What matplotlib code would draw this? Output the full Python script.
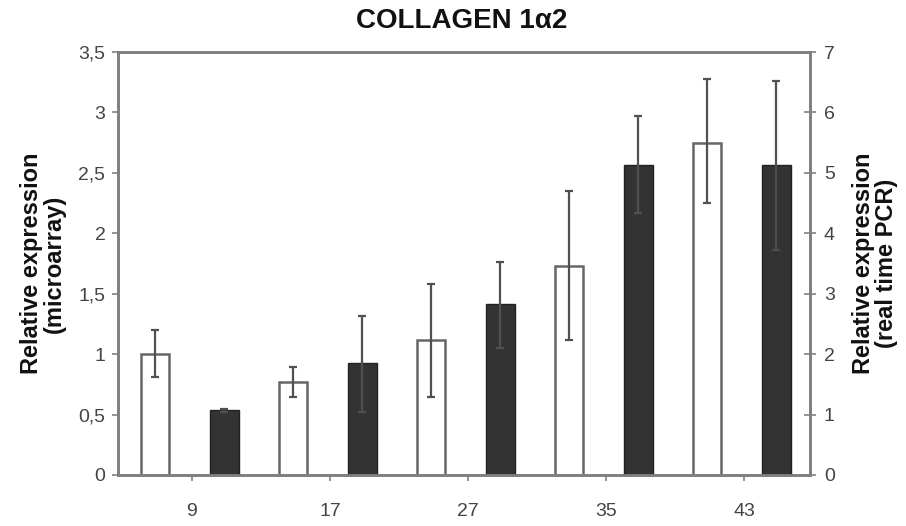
"""
COLLAGEN 1a2 - microarray vs real time PCR relative expression, dual axis bars.
"""
import numpy as np
import matplotlib
matplotlib.use("Agg")
import matplotlib.pyplot as plt
from matplotlib.ticker import FuncFormatter

plt.rcParams["font.family"] = ["Liberation Sans", "DejaVu Sans"]

# ── data ──────────────────────────────────────────────────────────────────────
days = ["9", "17", "27", "35", "43"]

micro    = [1.00, 0.77, 1.115, 1.73, 2.75]
micro_lo = [0.81, 0.645, 0.645, 1.115, 2.25]
micro_hi = [1.20, 0.89, 1.58, 2.35, 3.28]

pcr    = [1.07, 1.85, 2.83, 5.13, 5.13]
pcr_lo = [1.04, 1.04, 2.10, 4.34, 3.72]
pcr_hi = [1.10, 2.63, 3.52, 5.94, 6.52]

left_ticks  = [0, 0.5, 1, 1.5, 2, 2.5, 3, 3.5]
right_ticks = [0, 1, 2, 3, 4, 5, 6, 7]

# ── style ─────────────────────────────────────────────────────────────────────
AXIS  = "#808080"
TICKS = "#444444"
DARK  = "#333333"
EDGE  = "#666666"
ERR   = "#505050"

x = np.arange(len(days))
W = 0.205

fig = plt.figure(figsize=(9.06, 5.26), dpi=100, facecolor="white")
ax = fig.add_axes([0.1302, 0.097, 0.7638, 0.804])
ax2 = ax.twinx()

# microarray (left axis) - white bars
m = np.array(micro)
ax.bar(x - 0.268, m, W, color="white", edgecolor=EDGE, linewidth=1.8, zorder=2)
ax.errorbar(x - 0.268, m, yerr=[m - np.array(micro_lo), np.array(micro_hi) - m],
            fmt="none", ecolor=ERR, elinewidth=1.6, capsize=3, capthick=1.6, zorder=3)

# real time PCR (right axis) - dark bars
p = np.array(pcr)
ax2.bar(x + 0.235, p, W, color=DARK, edgecolor="#222222", linewidth=1.0, zorder=2)
ax2.errorbar(x + 0.235, p, yerr=[p - np.array(pcr_lo), np.array(pcr_hi) - p],
             fmt="none", ecolor=ERR, elinewidth=1.6, capsize=3, capthick=1.6, zorder=3)

ax.set_xlim(-0.536, 4.478)
ax.set_ylim(0, 3.5)
ax2.set_ylim(0, 7)

ax.set_yticks(left_ticks)
ax.yaxis.set_major_formatter(FuncFormatter(lambda v, _: ("%g" % v).replace(".", ",")))
ax2.set_yticks(right_ticks)
ax.set_xticks(x)
ax.set_xticklabels(days)

ax.tick_params(axis="y", direction="out", length=4, width=1.2, color=AXIS,
               labelcolor=TICKS, labelsize=14, pad=5)
ax.tick_params(axis="x", direction="out", length=4, width=1.2, color=AXIS,
               labelcolor=TICKS, labelsize=14, pad=16)
ax2.tick_params(axis="y", direction="inout", length=8, width=1.2, color=AXIS,
                labelcolor=TICKS, labelsize=14, pad=6)

for a in (ax, ax2):
    for s in a.spines.values():
        s.set_color(AXIS)
        s.set_linewidth(2)

ax.set_ylabel("Relative expression\n(microarray)", fontsize=17, fontweight="bold",
              color="#111111", labelpad=9, linespacing=1.0)
ax2.set_ylabel("Relative expression\n(real time PCR)", fontsize=17, fontweight="bold",
               color="#111111", rotation=90, labelpad=12, linespacing=1.0)

fig.text(0.51, 0.985, "COLLAGEN 1α2", fontsize=20, fontweight="bold",
         color="#111111", ha="center", va="top")

plt.savefig("out.png", dpi=100, facecolor="white")
